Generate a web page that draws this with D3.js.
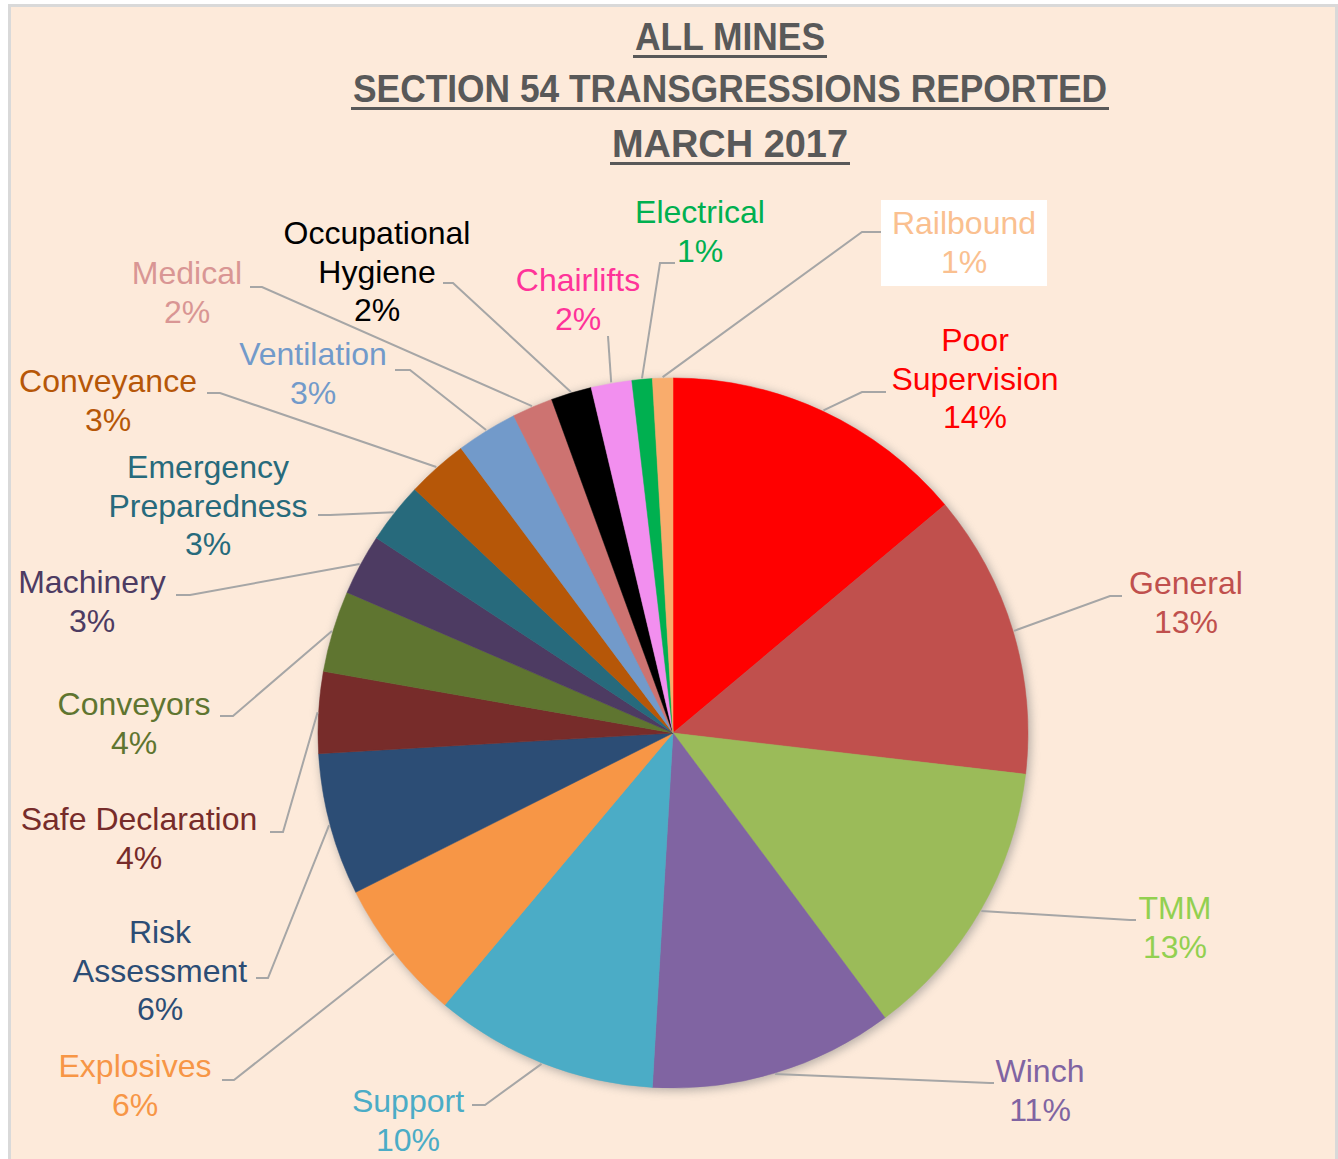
<!DOCTYPE html>
<html>
<head>
<meta charset="utf-8">
<script src="https://cdn.jsdelivr.net/npm/d3@7"></script>
<style>
  body { margin: 0; background: #fff; }
  text { font-family: "Liberation Sans", Arial, sans-serif; }
</style>
</head>
<body>
<svg id="chart" width="1338" height="1159"></svg>
<script>
const titleLines = ['ALL MINES', 'SECTION 54 TRANSGRESSIONS REPORTED', 'MARCH 2017'];

const categories = ['Poor Supervision', 'General', 'TMM', 'Winch', 'Support', 'Explosives',
  'Risk Assessment', 'Safe Declaration', 'Conveyors', 'Machinery', 'Emergency Preparedness',
  'Conveyance', 'Ventilation', 'Medical', 'Occupational Hygiene', 'Chairlifts', 'Electrical', 'Railbound'];

// transgressions reported per category
const counts = [15, 14, 14, 12, 11, 7, 7, 4, 4, 3, 3, 3, 3, 2, 2, 2, 1, 1];

const sliceColors = ['#FF0000', '#C0504D', '#9BBB59', '#8064A2', '#4BACC6', '#F79646',
  '#2C4D75', '#772C2A', '#5F7530', '#4D3B62', '#276A7C',
  '#B65708', '#729ACA', '#CD7371', '#000000', '#F28FEF', '#00B050', '#F9AC6C'];

const labelColors = ['#FF0000', '#C0504D', '#92D050', '#8064A2', '#4BACC6', '#F79646',
  '#2C4D75', '#772C2A', '#5F7530', '#4D3B62', '#276A7C',
  '#B65708', '#729ACA', '#D99694', '#000000', '#FF3399', '#00B050', '#FAC090'];

// how each category name is wrapped in its label
const labelLines = [['Poor', 'Supervision'], ['General'], ['TMM'], ['Winch'], ['Support'], ['Explosives'],
  ['Risk', 'Assessment'], ['Safe Declaration'], ['Conveyors'], ['Machinery'], ['Emergency', 'Preparedness'],
  ['Conveyance'], ['Ventilation'], ['Medical'], ['Occupational', 'Hygiene'], ['Chairlifts'], ['Electrical'], ['Railbound']];

// label placement: [centre x, first line y, leader anchor x, anchor y, elbow x]
const labelSpots = [
  [975, 340, 886, 392, 862],
  [1186, 583, 1122, 596, 1110],
  [1175, 908, 1136, 920, 1130],
  [1040, 1071, 994, 1083, 990],
  [408, 1101, 472, 1105, 485],
  [135, 1066, 222, 1080, 234],
  [160, 932, 256, 978, 268],
  [139, 819, 270, 832, 283],
  [134, 704, 220, 716, 233],
  [92, 582, 176, 595, 190],
  [208, 467, 318, 515, 330],
  [108, 381, 207, 393, 220],
  [313, 354, 395, 370, 410],
  [187, 273, 250, 287, 262],
  [377, 233, 443, 283, 453],
  [578, 280, 608, 336, 608],
  [700, 212, 675, 263, 660],
  [964, 223, 881, 232, 862]
];

const height = 1159;
const cx = 673;
const cy = 733;
const radius = 355;
const lineGap = 38.5;
const titleX = 730;

const svg = d3.select('#chart');

const defs = svg.append('defs');
defs.append('filter')
    .attr('id', 'soft')
    .attr('x', '-20%').attr('y', '-20%')
    .attr('width', '140%').attr('height', '140%')
    .append('feGaussianBlur')
    .attr('stdDeviation', 5);

// chart area
svg.append('rect')
   .attr('x', 9.5)
   .attr('y', 5.5)
   .attr('width', 1327)
   .attr('height', height + 10)
   .attr('fill', '#FDEADA')
   .attr('stroke', '#D9D9D9')
   .attr('stroke-width', 3);

// title
const title = svg.append('g')
                 .attr('fill', '#595959');
const titleBase = [50, 102, 157];
const titleWidth = [190, 754, 236];
titleLines.forEach((t, i) => {
  title.append('text')
       .text(t)
       .attr('x', titleX)
       .attr('y', titleBase[i])
       .attr('text-anchor', 'middle')
       .attr('textLength', titleWidth[i])
       .attr('lengthAdjust', 'spacingAndGlyphs')
       .style('font-family', '"Liberation Sans Narrow", "Liberation Sans", Arial, sans-serif')
       .style('font-weight', 'bold')
       .style('font-size', '39px');
  title.append('rect')
       .attr('x', titleX - titleWidth[i] / 2 - 2)
       .attr('y', titleBase[i] + 5)
       .attr('width', titleWidth[i] + 4)
       .attr('height', 3);
});

const total = d3.sum(counts);
const items = categories.map((name, i) => ({
  name: name,
  count: counts[i],
  pct: Math.round(counts[i] / total * 100) + '%',
  color: sliceColors[i],
  labelColor: labelColors[i],
  lines: labelLines[i],
  spot: labelSpots[i]
}));

const pie = d3.pie()
              .sort(null)
              .value(d => d.count);

const arc = d3.arc()
              .innerRadius(0)
              .outerRadius(radius);

const edgeArc = d3.arc()
                  .innerRadius(radius + 1)
                  .outerRadius(radius + 1);

const arcs = pie(items);

const plot = svg.append('g')
                .attr('transform', `translate(${cx},${cy})`);

// soft shadow round the pie
plot.append('circle')
    .attr('cx', 2)
    .attr('cy', 2)
    .attr('r', radius + 1)
    .attr('fill', '#7F7F7F')
    .attr('opacity', 0.55)
    .attr('filter', 'url(#soft)');

plot.selectAll('path.slice')
    .data(arcs)
    .enter()
    .append('path')
    .attr('class', 'slice')
    .attr('d', arc)
    .attr('fill', d => d.data.color)
    .attr('stroke', d => d.data.color)
    .attr('stroke-width', 0.5);

// leader lines
svg.append('g')
   .selectAll('polyline')
   .data(arcs)
   .enter()
   .append('polyline')
   .attr('points', d => {
     const c = edgeArc.centroid(d);
     const s = d.data.spot;
     return [[c[0] + cx, c[1] + cy], [s[4], s[3]], [s[2], s[3]]].map(p => p.join(',')).join(' ');
   })
   .attr('fill', 'none')
   .attr('stroke', '#A6A6A6')
   .attr('stroke-width', 2);

// white box behind the Railbound label
svg.append('rect')
   .attr('x', 881)
   .attr('y', 200)
   .attr('width', 166)
   .attr('height', 86)
   .attr('fill', '#FFFFFF');

const labels = svg.append('g')
                  .selectAll('text')
                  .data(items)
                  .enter()
                  .append('text')
                  .attr('text-anchor', 'middle')
                  .attr('fill', d => d.labelColor)
                  .style('font-size', '32px');

labels.selectAll('tspan')
      .data(d => d.lines.concat(d.pct).map(l => ({ text: l, spot: d.spot })))
      .enter()
      .append('tspan')
      .attr('x', d => d.spot[0])
      .attr('y', (d, i) => d.spot[1] + i * lineGap + 11)
      .text(d => d.text);
</script>
</body>
</html>
